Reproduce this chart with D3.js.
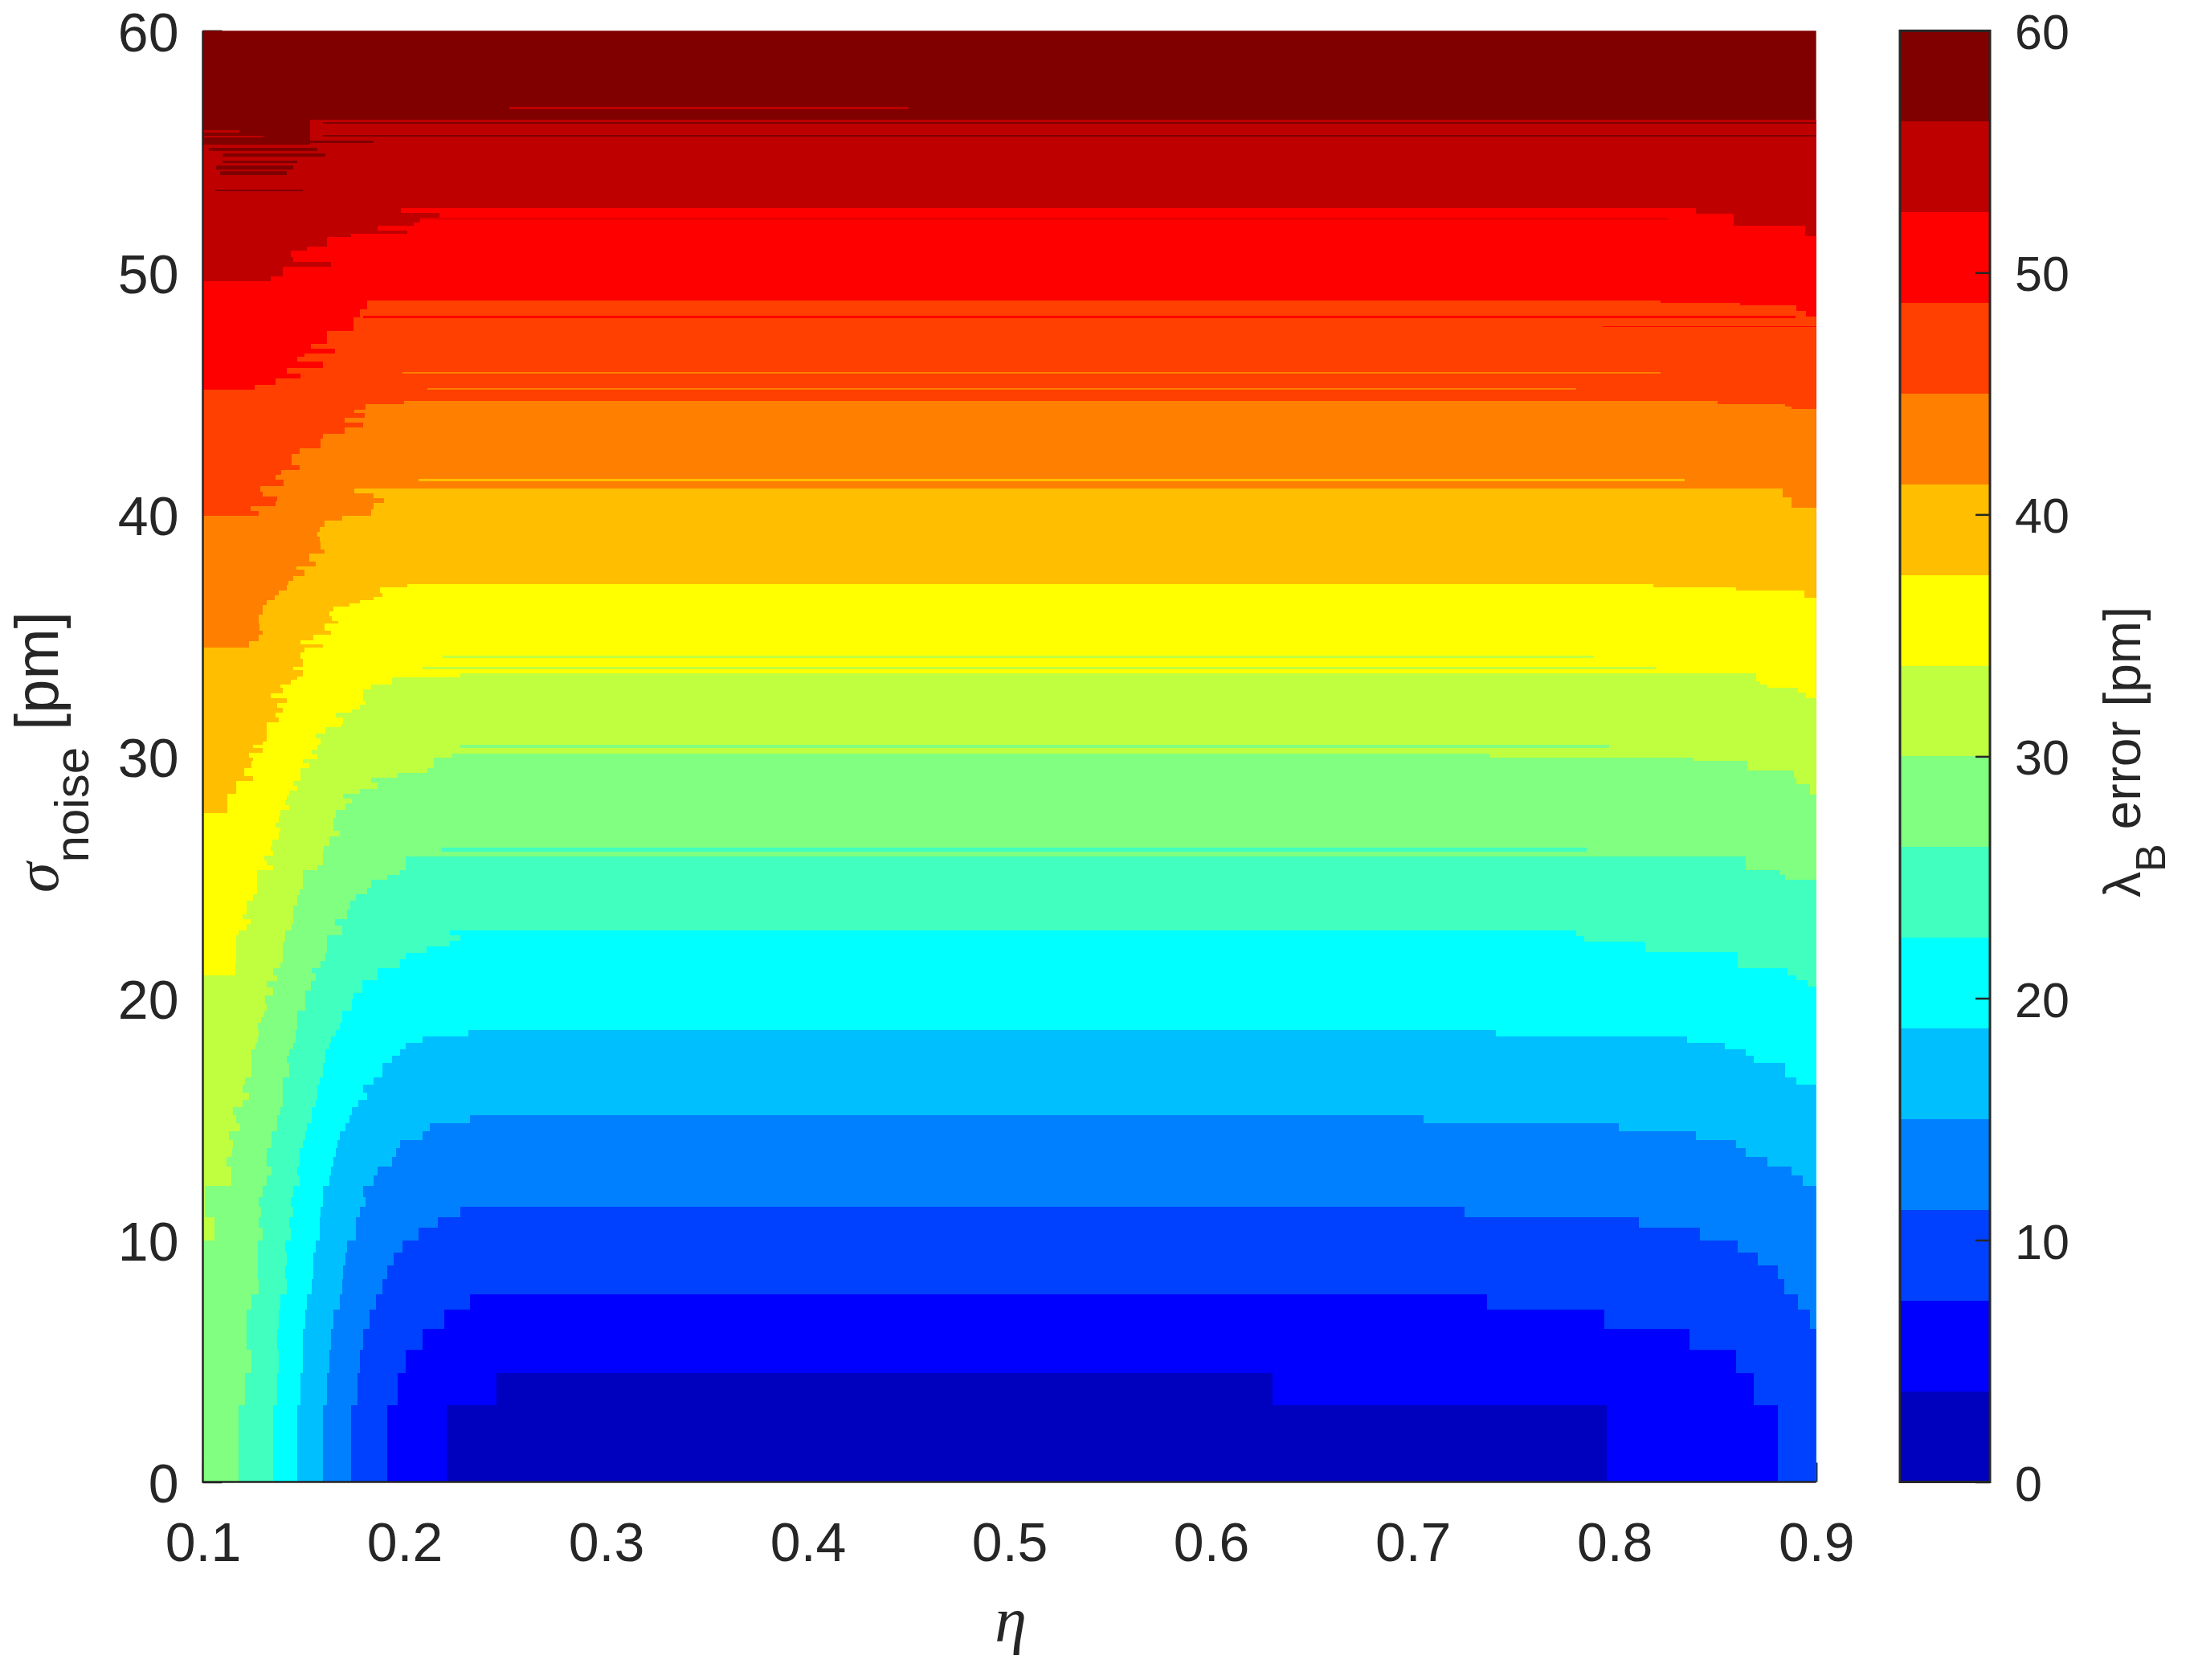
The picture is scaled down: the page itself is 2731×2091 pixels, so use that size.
<!DOCTYPE html>
<html>
<head>
<meta charset="utf-8">
<script src="https://cdn.jsdelivr.net/npm/d3@7"></script>
<style>
  body { margin: 0; background: #ffffff; }
</style>
</head>
<body>
<script>
'use strict';

// contour levels of the lambda_B error [pm]
const levels = [0, 3.75, 7.5, 11.25, 15, 18.75, 22.5, 26.25, 30, 33.75, 37.5, 41.25, 45, 48.75, 52.5, 56.25, 60];

// MATLAB jet(16), one colour per band
const jetColors = ['#0000bf', '#0000ff', '#0040ff', '#0080ff', '#00bfff', '#00ffff', '#40ffbf', '#80ff80',
  '#bfff40', '#ffff00', '#ffbf00', '#ff8000', '#ff4000', '#ff0000', '#bf0000', '#800000'];

// tick labels
const xTicks = [0.1, 0.2, 0.3, 0.4, 0.5, 0.6, 0.7, 0.8, 0.9];
const yTicks = [0, 10, 20, 30, 40, 50, 60];
const cbTicks = [0, 10, 20, 30, 40, 50, 60];

// contour edges, one list per level (levels[1] .. levels[15]).
// left branch: [eta, sigma] = in the row that ends at sigma the edge sits at eta (rising side)
// right branch: [eta, sigma] = at eta the edge drops down to sigma (falling side)
const edgeLeft = [
  [[0.2208, 3.17], [0.2455, 4.49]],
  [[0.1914, 3.17], [0.1967, 4.49], [0.2005, 5.48], [0.2090, 6.32], [0.2198, 7.11], [0.2325, 7.76]],
  [[0.1736, 3.17], [0.1768, 4.49], [0.1779, 5.48], [0.1795, 6.32], [0.1827, 7.11], [0.1858, 7.76], [0.1889, 8.38],
   [0.1914, 8.95], [0.1946, 9.50], [0.1989, 9.98], [0.2068, 10.50], [0.2167, 10.95], [0.2277, 11.38]],
  [[0.1596, 3.17], [0.1615, 4.49], [0.1627, 5.48], [0.1637, 6.32], [0.1647, 7.11], [0.1679, 7.76], [0.1690, 8.38],
   [0.1695, 8.95], [0.1706, 9.50], [0.1716, 9.98], [0.1759, 10.95], [0.1779, 11.38], [0.1805, 11.79], [0.1795, 12.25],
   [0.1848, 12.67], [0.1868, 13.04], [0.1937, 13.44], [0.1958, 13.79], [0.1979, 14.14], [0.2090, 14.49], [0.2125, 14.84],
   [0.2325, 15.15]],
  [[0.1468, 3.17], [0.1485, 4.49], [0.1496, 6.32], [0.1507, 7.11], [0.1517, 7.76], [0.1538, 8.38], [0.1549, 9.50],
   [0.1560, 9.98], [0.1580, 10.95], [0.1585, 11.38], [0.1596, 12.25], [0.1627, 12.67], [0.1637, 13.04], [0.1647, 13.44],
   [0.1658, 13.79], [0.1669, 14.14], [0.1679, 14.49], [0.1706, 14.84], [0.1727, 15.15], [0.1738, 15.50], [0.1770, 15.81],
   [0.1816, 16.09], [0.1795, 16.42], [0.1848, 16.73], [0.1889, 17.33], [0.1937, 17.62], [0.1978, 17.90], [0.2005, 18.16],
   [0.2090, 18.43], [0.2318, 18.70]],
  [[0.1349, 3.17], [0.1370, 4.49], [0.1375, 5.48], [0.1370, 6.32], [0.1375, 7.11], [0.1384, 7.76], [0.1416, 8.38],
   [0.1407, 8.95], [0.1416, 9.50], [0.1407, 9.98], [0.1437, 10.50], [0.1427, 10.95], [0.1448, 11.38], [0.1437, 11.79],
   [0.1448, 12.25], [0.1480, 12.67], [0.1469, 13.04], [0.1480, 13.79], [0.1496, 14.14], [0.1507, 14.49], [0.1517, 14.84],
   [0.1538, 15.50], [0.1560, 15.81], [0.1569, 16.42], [0.1580, 16.73], [0.1596, 17.33], [0.1606, 17.90], [0.1627, 18.16],
   [0.1637, 18.43], [0.1658, 18.70], [0.1679, 18.97], [0.1690, 19.49], [0.1738, 19.98], [0.1745, 20.20], [0.1791, 20.73],
   [0.1866, 21.23], [0.1977, 21.62], [0.2006, 21.88], [0.2109, 22.15], [0.2225, 22.37], [0.2278, 22.60], [0.2225, 22.79]],
  [[0.1176, 3.17], [0.1208, 4.49], [0.1240, 5.48], [0.1218, 7.11], [0.1240, 7.76], [0.1277, 8.38], [0.1272, 9.98],
   [0.1298, 10.50], [0.1277, 10.95], [0.1288, 11.38], [0.1277, 11.79], [0.1298, 12.25], [0.1318, 12.67], [0.1339, 13.04],
   [0.1318, 13.79], [0.1339, 14.49], [0.1370, 15.15], [0.1386, 15.50], [0.1396, 16.73], [0.1427, 17.33], [0.1416, 17.62],
   [0.1427, 17.90], [0.1448, 18.16], [0.1459, 18.70], [0.1469, 19.49], [0.1507, 20.31], [0.1536, 20.70], [0.1560, 21.03],
   [0.1538, 21.23], [0.1585, 21.55], [0.1606, 21.88], [0.1615, 22.60], [0.1690, 23.00], [0.1654, 23.26], [0.1715, 23.66],
   [0.1730, 24.05], [0.1759, 24.31], [0.1816, 24.57], [0.1836, 24.90], [0.1916, 25.10], [0.1978, 25.30], [0.2006, 25.86]],
  [[0.1000, 9.98], [0.1056, 10.95], [0.1010, 12.25], [0.1140, 13.04], [0.1119, 13.44], [0.1145, 13.79], [0.1149, 14.14],
   [0.1129, 14.49], [0.1187, 14.84], [0.1165, 15.15], [0.1149, 15.50], [0.1197, 15.81], [0.1229, 16.09], [0.1197, 16.42],
   [0.1208, 16.73], [0.1240, 17.90], [0.1261, 18.16], [0.1272, 18.43], [0.1277, 18.70], [0.1272, 18.97], [0.1288, 19.23],
   [0.1303, 19.49], [0.1318, 19.75], [0.1309, 20.11], [0.1349, 20.44], [0.1317, 20.70], [0.1370, 20.96], [0.1349, 21.23],
   [0.1386, 21.49], [0.1396, 22.34], [0.1407, 22.80], [0.1442, 23.06], [0.1448, 23.85], [0.1469, 24.25], [0.1481, 24.51],
   [0.1496, 25.30], [0.1569, 25.49], [0.1596, 26.09], [0.1601, 26.28], [0.1627, 26.68], [0.1679, 26.94], [0.1647, 27.47],
   [0.1661, 27.79], [0.1706, 28.06], [0.1738, 28.25], [0.1697, 28.45], [0.1779, 28.65], [0.1866, 28.91], [0.1836, 29.11],
   [0.1967, 29.30], [0.2113, 29.50], [0.2145, 29.96], [0.2236, 30.12]],
  [[0.1000, 20.96], [0.1160, 21.49], [0.1165, 22.60], [0.1176, 22.80], [0.1218, 23.06], [0.1238, 23.26], [0.1197, 23.46],
   [0.1218, 24.05], [0.1250, 24.31], [0.1270, 25.30], [0.1349, 25.49], [0.1317, 25.69], [0.1306, 25.89], [0.1349, 26.09],
   [0.1338, 26.28], [0.1343, 26.55], [0.1375, 26.87], [0.1386, 27.07], [0.1359, 27.27], [0.1375, 27.53], [0.1386, 27.79],
   [0.1427, 27.99], [0.1407, 28.19], [0.1416, 28.38], [0.1427, 28.58], [0.1469, 28.78], [0.1448, 28.97], [0.1485, 29.50],
   [0.1528, 29.70], [0.1496, 29.89], [0.1569, 30.09], [0.1538, 30.29], [0.1569, 30.49], [0.1585, 30.75], [0.1560, 30.95],
   [0.1606, 31.21], [0.1689, 31.34], [0.1694, 31.60], [0.1659, 31.80], [0.1738, 31.93], [0.1778, 32.13], [0.1805, 32.26],
   [0.1795, 32.78], [0.1836, 32.98], [0.1937, 33.24], [0.1946, 33.27], [0.2278, 33.44]],
  [[0.1000, 27.66], [0.1120, 28.45], [0.1165, 28.98], [0.1248, 29.17], [0.1205, 29.50], [0.1240, 29.83], [0.1249, 29.96],
   [0.1228, 30.16], [0.1295, 30.35], [0.1250, 30.49], [0.1295, 30.62], [0.1317, 31.41], [0.1375, 31.60], [0.1359, 31.80],
   [0.1396, 32.00], [0.1369, 32.19], [0.1415, 32.39], [0.1337, 32.59], [0.1395, 32.85], [0.1385, 32.98], [0.1438, 33.18],
   [0.1469, 33.31], [0.1495, 33.57], [0.1448, 33.70], [0.1495, 34.03], [0.1484, 34.30], [0.1505, 34.49], [0.1596, 34.62],
   [0.1484, 34.79], [0.1548, 35.02], [0.1637, 35.21], [0.1605, 35.48], [0.1670, 35.61], [0.1638, 35.81], [0.1627, 36.00],
   [0.1647, 36.20], [0.1726, 36.33], [0.1779, 36.46], [0.1847, 36.59], [0.1889, 36.76], [0.1879, 36.99], [0.2014, 37.12]],
  [[0.1000, 34.49], [0.1229, 34.75], [0.1275, 35.02], [0.1297, 35.21], [0.1282, 35.48], [0.1275, 35.87], [0.1298, 36.27],
   [0.1318, 36.46], [0.1357, 36.66], [0.1375, 36.86], [0.1415, 37.08], [0.1426, 37.25], [0.1447, 37.45], [0.1505, 37.71],
   [0.1463, 37.84], [0.1558, 38.04], [0.1526, 38.37], [0.1605, 38.56], [0.1585, 38.89], [0.1578, 39.09], [0.1568, 39.29],
   [0.1578, 39.48], [0.1605, 39.73], [0.1690, 39.94], [0.1833, 40.21], [0.1846, 40.48], [0.1900, 40.68], [0.1846, 40.89],
   [0.1750, 41.09]],
  [[0.1000, 39.94], [0.1276, 40.14], [0.1236, 40.34], [0.1359, 40.55], [0.1369, 40.75], [0.1295, 40.95], [0.1286, 41.16],
   [0.1401, 41.43], [0.1362, 41.63], [0.1388, 41.84], [0.1481, 42.04], [0.1442, 42.51], [0.1481, 42.72], [0.1585, 43.12],
   [0.1596, 43.33], [0.1705, 43.60], [0.1793, 43.80], [0.1705, 44.01], [0.1804, 44.21], [0.1750, 44.34], [0.1807, 44.55],
   [0.1999, 44.68]],
  [[0.1000, 45.16], [0.1256, 45.36], [0.1359, 45.63], [0.1484, 45.84], [0.1415, 46.07], [0.1594, 46.31], [0.1468, 46.51],
   [0.1504, 46.65], [0.1657, 46.85], [0.1534, 47.06], [0.1614, 47.60], [0.1747, 48.14], [0.1777, 48.48], [0.1815, 48.85]],
  [[0.1000, 49.63], [0.1338, 49.84], [0.1395, 50.24], [0.1637, 50.45], [0.1448, 50.65], [0.1438, 50.92], [0.1514, 51.06],
   [0.1614, 51.46], [0.1734, 51.60], [0.2012, 51.73], [0.1867, 51.94], [0.2046, 52.07], [0.2076, 52.28], [0.2175, 52.48],
   [0.1980, 52.68]],
  [[0.1000, 55.30], [0.1530, 56.32]]
];

const edgeRight = [
  [[0.6304, 3.17], [0.7962, 0]],
  [[0.7368, 7.11], [0.7951, 6.32], [0.8371, 5.48], [0.8602, 4.49], [0.8691, 3.17], [0.8810, 0]],
  [[0.7255, 10.95], [0.8120, 10.50], [0.8424, 9.98], [0.8612, 9.50], [0.8711, 8.95], [0.8810, 8.38], [0.8842, 7.76],
   [0.8910, 7.11], [0.8968, 6.32]],
  [[0.7053, 14.84], [0.8020, 14.49], [0.8402, 14.14], [0.8602, 13.79], [0.8649, 13.44], [0.8758, 13.04], [0.8879, 12.67],
   [0.8932, 12.25]],
  [[0.7412, 18.43], [0.8360, 18.16], [0.8549, 17.90], [0.8649, 17.62], [0.8691, 17.33], [0.8847, 16.73], [0.8900, 16.42]],
  [[0.7810, 22.58], [0.7851, 22.34], [0.8151, 21.92], [0.8612, 21.23], [0.8859, 20.96], [0.8901, 20.74], [0.8957, 20.48]],
  [[0.8649, 25.30], [0.8821, 25.10], [0.8847, 24.90]],
  [[0.7380, 29.96], [0.8392, 29.83], [0.8659, 29.40], [0.8888, 29.11], [0.8901, 28.85], [0.8968, 28.42]],
  [[0.8701, 33.10], [0.8722, 32.98], [0.8759, 32.85], [0.8911, 32.65], [0.8949, 32.40]],
  [[0.8193, 36.99], [0.8602, 36.87], [0.8942, 36.57]],
  [[0.8834, 40.70], [0.8878, 40.28]],
  [[0.8510, 44.57], [0.8847, 44.45], [0.8878, 44.37]],
  [[0.8227, 48.76], [0.8622, 48.65], [0.8900, 48.40], [0.8950, 48.20]],
  [[0.8402, 52.44], [0.8590, 51.94], [0.8944, 51.50]],
  []
];

// thin slivers left by the noisy data: [eta start, eta end, sigma low, sigma high, band]
const slivers = [
  [0.2518, 0.4500, 56.75, 56.85, 14],
  [0.1597, 0.9000, 56.14, 56.21, 15], [0.1597, 0.9000, 55.64, 55.69, 15],
  [0.1000, 0.1300, 55.60, 55.66, 14], [0.1000, 0.1180, 55.80, 55.90, 14],
  [0.1030, 0.1568, 55.02, 55.15, 15], [0.1083, 0.1847, 55.37, 55.46, 15],
  [0.1098, 0.1606, 54.79, 54.94, 15], [0.1098, 0.1467, 54.54, 54.63, 15], [0.1067, 0.1447, 54.27, 54.43, 15],
  [0.1087, 0.1416, 54.02, 54.19, 15], [0.1060, 0.1495, 53.36, 53.43, 15],
  [0.2076, 0.8270, 52.19, 52.24, 14],
  [0.1795, 0.8897, 48.13, 48.23, 13], [0.7942, 0.9000, 47.74, 47.80, 13],
  [0.1989, 0.8227, 45.81, 45.88, 11], [0.2112, 0.7810, 45.16, 45.23, 11],
  [0.2068, 0.8349, 41.36, 41.46, 10],
  [0.2188, 0.7898, 34.06, 34.16, 8], [0.2088, 0.8203, 33.61, 33.70, 8],
  [0.2278, 0.7972, 30.33, 30.49, 7],
  [0.2184, 0.7862, 26.06, 26.24, 6]
];

const ink = '#262626';
const fontSans = '"Liberation Sans", Arial, Helvetica, sans-serif';
const fontGreek = '"Liberation Serif", "Times New Roman", serif';

let svg = '';
let x = '';
let y = '';

window.onload = function() {
  svg = d3.select('body')
    .append('svg')
    .attr('width', 2731)
    .attr('height', 2091)
    .style('font-family', fontSans);

  x = d3.scaleLinear().domain([0.1, 0.9]).range([252.5, 2260.7]);
  y = d3.scaleLinear().domain([0, 60]).range([1844.5, 38.3]);

  drawTicks();
  drawContour();
  drawAxisLines();
  drawColorbar();
  makeLabels();
};

// turn a staircase edge into the polygon of everything below it
function edgePolygon(left, right) {
  let pts = [];
  let prev = 0;
  left.forEach(([e, s]) => { pts.push([e, prev], [e, s]); prev = s; });
  right.forEach(([e, s]) => { pts.push([e, prev], [e, s]); prev = s; });
  pts.push([0.9, prev], [0.9, 0]);
  return pts;
}

// ticks sit under the filled contour, like MATLAB's bottom layer
function drawTicks() {
  let yAxis = d3.axisLeft(y)
    .tickValues(yTicks)
    .tickFormat(d3.format('d'))
    .tickSize(-24)
    .tickSizeOuter(0)
    .tickPadding(30);
  let gy = svg.append('g')
    .attr('transform', 'translate(' + x(0.1) + ',0)')
    .call(yAxis);

  let xAxis = d3.axisBottom(x)
    .tickValues(xTicks)
    .tickFormat(d3.format('.1f'))
    .tickSize(-24)
    .tickSizeOuter(0)
    .tickPadding(50);
  let gx = svg.append('g')
    .attr('transform', 'translate(0,' + y(0) + ')')
    .call(xAxis);

  [gx, gy].forEach((g) => {
    g.attr('font-size', 68).attr('font-family', fontSans);
    g.select('.domain').remove();
    g.selectAll('line').attr('stroke', ink).attr('stroke-width', 2.5);
    g.selectAll('text').attr('fill', ink);
  });
  gy.selectAll('text').attr('dy', '0.37em');
}

function drawContour() {
  svg.append('clipPath')
    .attr('id', 'plotClip')
    .append('rect')
    .attr('x', x(0.1))
    .attr('y', y(60))
    .attr('width', x(0.9) - x(0.1))
    .attr('height', y(0) - y(60));

  let plot = svg.append('g')
    .attr('clip-path', 'url(#plotClip)')
    .attr('shape-rendering', 'crispEdges');

  // top band fills everything, lower bands are painted downwards
  plot.append('rect')
    .attr('x', x(0.1))
    .attr('y', y(60))
    .attr('width', x(0.9) - x(0.1))
    .attr('height', y(0) - y(60))
    .attr('fill', jetColors[15]);

  const line = d3.line()
    .x(d => x(d[0]))
    .y(d => y(d[1]));

  for (let k = edgeLeft.length - 1; k >= 0; k--) {
    plot.append('path')
      .attr('d', line(edgePolygon(edgeLeft[k], edgeRight[k])) + 'Z')
      .attr('fill', jetColors[k]);
  }

  plot.selectAll('.sliver')
    .data(slivers)
    .enter()
    .append('rect')
    .attr('class', 'sliver')
    .attr('x', d => x(d[0]))
    .attr('y', d => y(d[3]))
    .attr('width', d => x(d[1]) - x(d[0]))
    .attr('height', d => Math.max(1, y(d[2]) - y(d[3])))
    .attr('fill', d => jetColors[d[4]]);
}

function drawAxisLines() {
  svg.append('path')
    .attr('d', 'M' + x(0.1) + ',' + y(60) + 'V' + y(0) + 'H' + x(0.9))
    .attr('fill', 'none')
    .attr('stroke', ink)
    .attr('stroke-width', 2.5);
}

function drawColorbar() {
  const x0 = 2365;
  const x1 = 2477;
  let cy = d3.scaleLinear().domain([0, 60]).range([1844.5, 38.3]);

  let bands = d3.range(jetColors.length);
  svg.append('g')
    .attr('shape-rendering', 'crispEdges')
    .selectAll('rect')
    .data(bands)
    .enter()
    .append('rect')
    .attr('x', x0)
    .attr('width', x1 - x0)
    .attr('y', i => cy(levels[i + 1]))
    .attr('height', i => cy(levels[i]) - cy(levels[i + 1]))
    .attr('fill', i => jetColors[i]);

  let cAxis = d3.axisRight(cy)
    .tickValues(cbTicks)
    .tickFormat(d3.format('d'))
    .tickSize(-18)
    .tickSizeOuter(0)
    .tickPadding(31);
  let g = svg.append('g')
    .attr('transform', 'translate(' + x1 + ',0)')
    .call(cAxis)
    .attr('font-size', 61)
    .attr('font-family', fontSans);
  g.select('.domain').remove();
  g.selectAll('line').attr('stroke', ink).attr('stroke-width', 2.5);
  g.selectAll('text').attr('fill', ink).attr('dy', '0.37em');

  svg.append('rect')
    .attr('x', x0)
    .attr('y', cy(60))
    .attr('width', x1 - x0)
    .attr('height', cy(0) - cy(60))
    .attr('fill', 'none')
    .attr('stroke', ink)
    .attr('stroke-width', 3);
}

// axis titles
function makeLabels() {
  svg.append('text')
    .attr('x', 1258)
    .attr('y', 2043)
    .attr('text-anchor', 'middle')
    .attr('font-family', fontGreek)
    .attr('font-style', 'italic')
    .attr('font-size', 80)
    .attr('fill', ink)
    .text('η');

  let yl = svg.append('text')
    .attr('transform', 'translate(72,936)rotate(-90)')
    .attr('text-anchor', 'middle')
    .attr('font-size', 76)
    .attr('fill', ink);
  yl.append('tspan').attr('font-family', fontGreek).attr('font-style', 'italic').text('σ');
  yl.append('tspan').attr('font-size', 60).attr('dy', 38).text('noise');
  yl.append('tspan').attr('dy', -38).text(' [pm]');

  let cl = svg.append('text')
    .attr('transform', 'translate(2664,936)rotate(-90)')
    .attr('text-anchor', 'middle')
    .attr('font-size', 64)
    .attr('fill', ink);
  cl.append('tspan').text('λ');
  cl.append('tspan').attr('font-size', 52).attr('dy', 31).text('B');
  cl.append('tspan').attr('dy', -31).text(' error [pm]');
}
</script>
</body>
</html>
